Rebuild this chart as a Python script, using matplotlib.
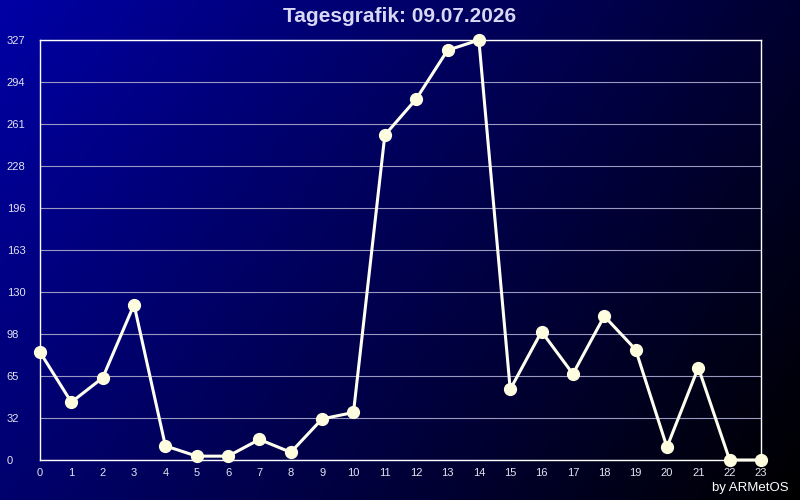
"""
Tagesgrafik: hourly values for one day, drawn on a blue-to-black gradient.

Writes out.png (800x500).
"""

import matplotlib

matplotlib.use("Agg")
import matplotlib.pyplot as plt
import numpy as np

plt.rcParams["font.family"] = ["Liberation Sans", "DejaVu Sans"]

TITLE = "Tagesgrafik: 09.07.2026"
CREDIT = "by ARMetOS"

HOURS = list(range(24))
VALUES = [84, 45, 64, 121, 11, 3, 3, 16, 6, 32, 37, 253,
          281, 319, 327, 55, 100, 67, 112, 86, 10, 72, 0, 0]

Y_MAX = 327
Y_TICKS = [0, 32.7, 65.4, 98.1, 130.8, 163.5, 196.2, 228.9, 261.6, 294.3, 327]
Y_LABELS = ["0", "32", "65", "98", "130", "163", "196", "228", "261", "294", "327"]

COLOR = {
    "line": "#fffff0",
    "marker": "#fffde0",
    "grid": "#9a9ac0",
    "frame": "#ffffff",
    "title": "#d8d8f4",
    "tick": "#e4e4f0",
}

# corner intensities of the blue channel (top-left, top-right, bottom-left, bottom-right)
GRAD = (165, 48, 110, 0)


def gradient_image(w=200, h=125):
    u = np.linspace(0, 1, w)[None, :]
    v = np.linspace(0, 1, h)[:, None]
    tl, tr, bl, br = GRAD
    b = tl * (1 - u) * (1 - v) + tr * u * (1 - v) + bl * (1 - u) * v + br * u * v
    img = np.zeros((h, w, 3))
    img[..., 2] = b / 255.0
    return img


def main() -> None:
    fig = plt.figure(figsize=(8, 5), dpi=100)

    bg = fig.add_axes([0, 0, 1, 1], zorder=0)
    bg.imshow(gradient_image(), aspect="auto", extent=[0, 1, 0, 1], interpolation="bilinear")
    bg.set_axis_off()

    ax = fig.add_axes([40 / 800, 40 / 500, 721 / 800, 420 / 500], zorder=1)
    ax.patch.set_alpha(0)

    ax.plot(HOURS, VALUES, color=COLOR["line"], linewidth=2.2, zorder=3,
            marker="o", markersize=8.5, markerfacecolor=COLOR["marker"],
            markeredgecolor=COLOR["marker"], clip_on=False)

    ax.set_xlim(0, 23)
    ax.set_ylim(0, Y_MAX)
    ax.set_xticks(HOURS)
    ax.set_xticklabels([str(h) for h in HOURS])
    ax.set_yticks(Y_TICKS)
    ax.set_yticklabels(Y_LABELS)

    ax.grid(axis="y", color=COLOR["grid"], linewidth=0.8)
    ax.set_axisbelow(True)
    for s in ax.spines.values():
        s.set_color(COLOR["frame"])
        s.set_linewidth(1.0)

    ax.tick_params(axis="both", length=0, colors=COLOR["tick"], labelsize=8)
    ax.tick_params(axis="y", pad=24)
    for lab in ax.get_yticklabels():
        lab.set_horizontalalignment("left")
    ax.tick_params(axis="x", pad=6)

    fig.text(0.5, 1 - 17 / 500, TITLE, ha="center", va="center",
             fontsize=15, fontweight="bold", color=COLOR["title"])
    fig.text(1 - 11 / 800, 12 / 500, CREDIT, ha="right", va="center",
             fontsize=9.5, color="#ffffff")

    fig.savefig("out.png", dpi=100)


if __name__ == "__main__":
    main()
